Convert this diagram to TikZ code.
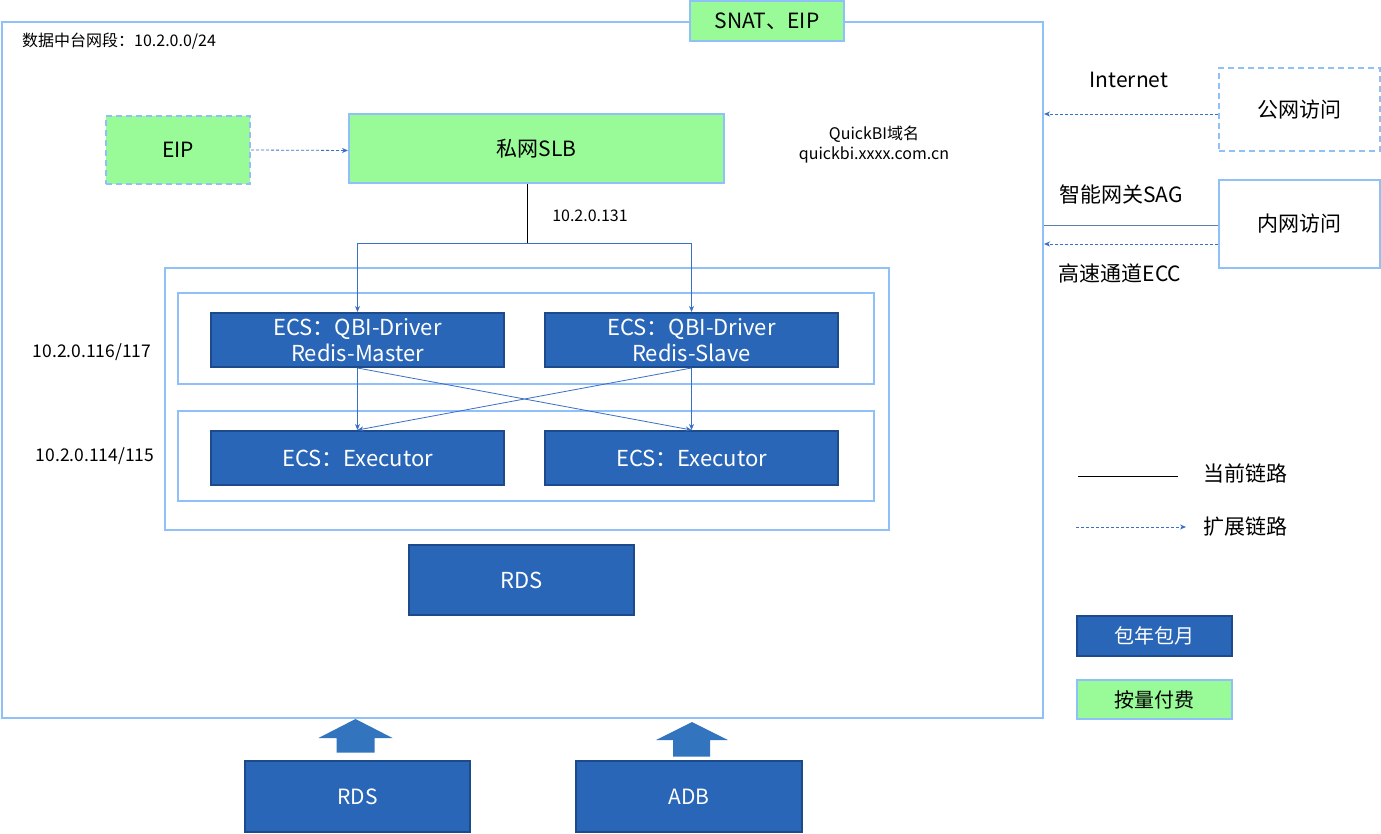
\documentclass[tikz,border=0pt]{standalone}
\usepackage{fontspec}
\setmainfont{Noto Sans CJK SC}
\usetikzlibrary{arrows.meta,calc}
\definecolor{lb}{RGB}{144,192,248}
\definecolor{pg}{RGB}{152,251,152}
\definecolor{db}{RGB}{42,102,184}
\definecolor{dbb}{RGB}{29,74,138}
\definecolor{lk}{RGB}{58,111,198}
\definecolor{sag}{RGB}{95,125,170}
\definecolor{ba}{RGB}{50,116,190}
\begin{document}
\begin{tikzpicture}[x=1pt,y=-1pt,
  region/.style={draw=lb,line width=2pt,inner sep=0pt},
  greenbox/.style={draw=lb,fill=pg,line width=2pt,inner sep=0pt,font=\fontsize{21}{24}\selectfont},
  darkbox/.style={draw=dbb,fill=db,line width=2pt,inner sep=0pt,text=white,align=center,font=\fontsize{22}{26}\selectfont},
  plainbox/.style={draw=lb,line width=2pt,inner sep=0pt,font=\fontsize{21}{24}\selectfont},
  dashbox/.style={draw=lb,line width=2pt,inner sep=0pt,dash pattern=on 6pt off 4pt,font=\fontsize{21}{24}\selectfont},
  small/.style={inner sep=0pt,font=\fontsize{16}{20}\selectfont,align=center},
  big/.style={inner sep=0pt,font=\fontsize{21}{24}\selectfont},
  link/.style={draw=lk,line width=0.8pt,-{Stealth[length=6pt,width=5pt]}},
  dlink/.style={draw=lk,line width=0.8pt,dash pattern=on 3pt off 2pt,-{Stealth[length=6pt,width=5pt]}},
  bigarrow/.style={fill=ba,draw=none}
]
\useasboundingbox (0,0) rectangle (1381,834);
\fill[white] (0,0) rectangle (1381,834);

% main region
\node[region,minimum width=1041pt,minimum height=696pt] (main) at (522.5,370) {};
\node[greenbox,minimum width=154pt,minimum height=40pt] (snat) at (767,21) {SNAT、EIP};
\node[small,anchor=west] (seg) at (22,41) {数据中台网段：10.2.0.0/24};

% EIP and SLB
\node[greenbox,dash pattern=on 6pt off 4pt,minimum width=144pt,minimum height=68pt] (eip) at (178,150) {EIP};
\node[greenbox,minimum width=375pt,minimum height=69pt] (slb) at (536.5,148.5) {私网SLB};
\node[small] (qbi) at (874,145) {QuickBI域名\\quickbi.xxxx.com.cn};
\draw[dlink] (eip.east) -- ([yshift=-0.5pt]slb.west |- eip.east);

% ECS groups
\node[region,minimum width=724pt,minimum height=262pt] (grp) at (526.5,399) {};
\node[region,minimum width=696pt,minimum height=90pt] (row1) at (526,338.5) {};
\node[region,minimum width=696pt,minimum height=90pt] (row2) at (526,456) {};
\node[darkbox,minimum width=293pt,minimum height=54pt] (e1) at (357.5,340) {ECS：QBI-Driver\\Redis-Master};
\node[darkbox,minimum width=293pt,minimum height=54pt] (e2) at (691.5,340) {ECS：QBI-Driver\\Redis-Slave};
\node[darkbox,minimum width=293pt,minimum height=54pt] (e3) at (357.5,458) {ECS：Executor};
\node[darkbox,minimum width=293pt,minimum height=54pt] (e4) at (691.5,458) {ECS：Executor};
\node[small,font=\fontsize{17.5}{20}\selectfont] (ip1) at (92,352) {10.2.0.116/117};
\node[small,font=\fontsize{17.5}{20}\selectfont] (ip2) at (95,456) {10.2.0.114/115};

% SLB to ECS
\coordinate (split) at (527,243.5);
\draw[black,line width=0.8pt] (slb.south -| split) -- (split);
\draw[link] (split) -| (e1.north);
\draw[link] (split) -| (e2.north);
\node[small] (ip0) at (590,216) {10.2.0.131};

\draw[link] (e1.south) -- (e3.north);
\draw[link] (e1.south) -- (e4.north);
\draw[link] (e2.south) -- (e3.north);
\draw[link] (e2.south) -- (e4.north);

% internal RDS
\node[darkbox,minimum width=225pt,minimum height=70pt] (rds1) at (521.5,580) {RDS};

% right side
\node[dashbox,minimum width=161pt,minimum height=83pt] (pub) at (1299.5,109.5) {公网访问};
\node[plainbox,minimum width=161pt,minimum height=88pt] (pri) at (1299.5,224) {内网访问};
\node[big] (inet) at (1129,80) {Internet};
\node[big] (sagl) at (1121,194) {智能网关SAG};
\node[big] (eccl) at (1120,273) {高速通道ECC};
\draw[dlink] ([yshift=-4.5pt]pub.west) -- ([yshift=-4.5pt]pub.west -| main.east);
\draw[draw=sag,line width=1pt] ([yshift=-2pt]pri.west) -- ([yshift=-2pt]pri.west -| main.east);
\draw[dlink] ([yshift=-20pt]pri.west) -- ([yshift=-20pt]pri.west -| main.east);

% legend
\coordinate (la) at (1078,476);
\coordinate (lb2) at (1178,476);
\draw[black,line width=0.8pt] (la) -- (lb2);
\node[big] (cur) at (1245,473) {当前链路};
\coordinate (lc) at (1076,527);
\coordinate (ld) at (1186,527);
\draw[dlink] (lc) -- (ld);
\node[big] (ext) at (1245,527) {扩展链路};
\node[darkbox,minimum width=155pt,minimum height=40pt,font=\fontsize{20}{24}\selectfont] (yr) at (1154.5,636) {包年包月};
\node[greenbox,minimum width=155pt,minimum height=39pt,font=\fontsize{20}{24}\selectfont] (pay) at (1154.5,699.5) {按量付费};

% bottom sources
\node[darkbox,minimum width=225pt,minimum height=71pt,font=\fontsize{21}{24}\selectfont] (rds2) at (357.5,796.5) {RDS};
\node[darkbox,minimum width=226pt,minimum height=71pt,font=\fontsize{21}{24}\selectfont] (adb) at (689,796.5) {ADB};
\fill[bigarrow] (355.5,719) -- (392.5,738) -- (374.5,738) -- (374.5,752.5) -- (336.5,752.5) -- (336.5,738) -- (318.5,738) -- cycle;
\fill[bigarrow] (692,722) -- (728,740) -- (710,740) -- (710,756.5) -- (673,756.5) -- (673,740) -- (656,740) -- cycle;
\end{tikzpicture}
\end{document}
